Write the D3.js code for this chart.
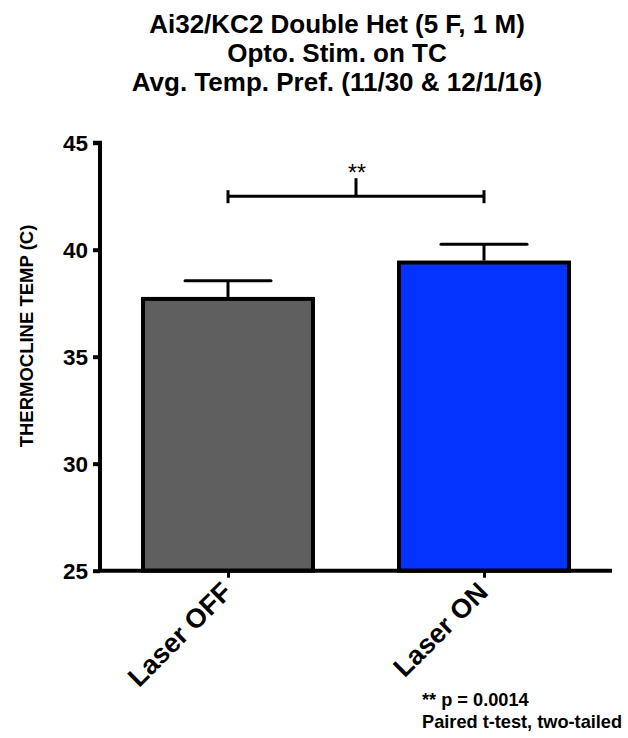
<!DOCTYPE html>
<html><head><meta charset="utf-8">
<script src="https://cdn.jsdelivr.net/npm/d3@7"></script>
<style>body{margin:0;background:#fff}svg{display:block}svg text{font-family:"Liberation Sans",Arial,sans-serif}</style>
</head><body>
<script>
const categories = ["Laser OFF", "Laser ON"];
const means = [37.7, 39.4];
const sems = [0.85, 0.85];
const barColors = ["#5f5f5f", "#0433ff"];
const yTicks = [25, 30, 35, 40, 45];
const titleLines = ["Ai32/KC2 Double Het (5 F, 1 M)", "Opto. Stim. on TC", "Avg. Temp. Pref. (11/30 & 12/1/16)"];
const sigLevel = 42.5;
const sigLabel = "**";
const footnote = ["** p = 0.0014", "Paired t-test, two-tailed"];

const W = 628, H = 738;
const FONT = '"Liberation Sans", Arial, sans-serif';
const svg = d3.select("body").append("svg").attr("width", W).attr("height", H);

const x = d3.scalePoint().domain(categories).range([100, 612]).padding(0.5);
const y = d3.scaleLinear().domain([25, 45]).range([570.7, 142.7]);
const barW = x.step() * 0.664;

// title
svg.append("g").selectAll("text").data(titleLines).join("text")
  .attr("x", 337).attr("y", (d, i) => 33 + i * 29)
  .attr("text-anchor", "middle").attr("font-size", 26).attr("font-weight", "bold")
  .text(d => d);

// bars
svg.append("g").selectAll("rect").data(means).join("rect")
  .attr("x", (d, i) => x(categories[i]) - barW / 2)
  .attr("y", d => y(d))
  .attr("width", barW)
  .attr("height", d => y(25) - y(d))
  .attr("fill", (d, i) => barColors[i])
  .attr("stroke", "#000").attr("stroke-width", 4);

// error bars
const eb = svg.append("g").attr("stroke", "#000").attr("stroke-width", 3);
means.forEach((m, i) => {
  const cx = x(categories[i]);
  eb.append("line").attr("x1", cx).attr("x2", cx).attr("y1", y(m) - 2).attr("y2", y(m + sems[i]));
  eb.append("line").attr("x1", cx - 43).attr("x2", cx + 43).attr("y1", y(m + sems[i])).attr("y2", y(m + sems[i])).attr("stroke-linecap", "round");
});

// y axis
const yAxis = svg.append("g").attr("transform", "translate(100,0)")
  .call(d3.axisLeft(y).tickValues(yTicks).tickSize(7).tickPadding(5));
yAxis.select(".domain").attr("stroke-width", 4).attr("d", `M-7,${y(45)}H0V${y(25)}`);
yAxis.selectAll(".tick line").attr("stroke-width", 4);
yAxis.selectAll(".tick text").attr("font-size", 22.5).attr("font-weight", "bold").attr("fill", "#000")
  .attr("font-family", FONT).attr("dy", "0.36em");

// x axis
const xAxis = svg.append("g").attr("transform", `translate(0,${y(25)})`)
  .call(d3.axisBottom(x).tickSize(7).tickPadding(6));
xAxis.select(".domain").attr("stroke-width", 4).attr("d", "M98,0H612");
xAxis.selectAll(".tick line").attr("stroke-width", 3);
xAxis.selectAll(".tick text").attr("font-size", 27).attr("font-weight", "bold").attr("fill", "#000")
  .attr("font-family", FONT)
  .attr("text-anchor", "end").attr("dy", null).attr("y", 0).attr("x", 0)
  .attr("transform", "translate(5,23) rotate(-45)");

// y axis title
svg.append("text").attr("transform", "translate(33,336) rotate(-90)")
  .attr("text-anchor", "middle").attr("font-size", 18.5).attr("font-weight", "bold")
  .text("THERMOCLINE TEMP (C)");

// significance bracket
const x1 = x(categories[0]), x2 = x(categories[1]), sy = y(sigLevel);
const sg = svg.append("g").attr("stroke", "#000").attr("stroke-width", 3).attr("fill", "none");
sg.append("line").attr("x1", x1).attr("x2", x2).attr("y1", sy).attr("y2", sy);
sg.append("line").attr("x1", x1).attr("x2", x1).attr("y1", sy - 6).attr("y2", sy + 7);
sg.append("line").attr("x1", x2).attr("x2", x2).attr("y1", sy - 6).attr("y2", sy + 7);
sg.append("line").attr("x1", (x1 + x2) / 2).attr("x2", (x1 + x2) / 2).attr("y1", sy).attr("y2", sy - 18);
svg.append("text").attr("x", (x1 + x2) / 2 + 1).attr("y", 181)
  .attr("text-anchor", "middle").attr("font-size", 23).text(sigLabel);

// footnote
svg.append("g").selectAll("text").data(footnote).join("text")
  .attr("x", 422).attr("y", (d, i) => 706 + i * 22)
  .attr("font-size", 18.2).attr("font-weight", "bold").text(d => d);
</script>
</body></html>
